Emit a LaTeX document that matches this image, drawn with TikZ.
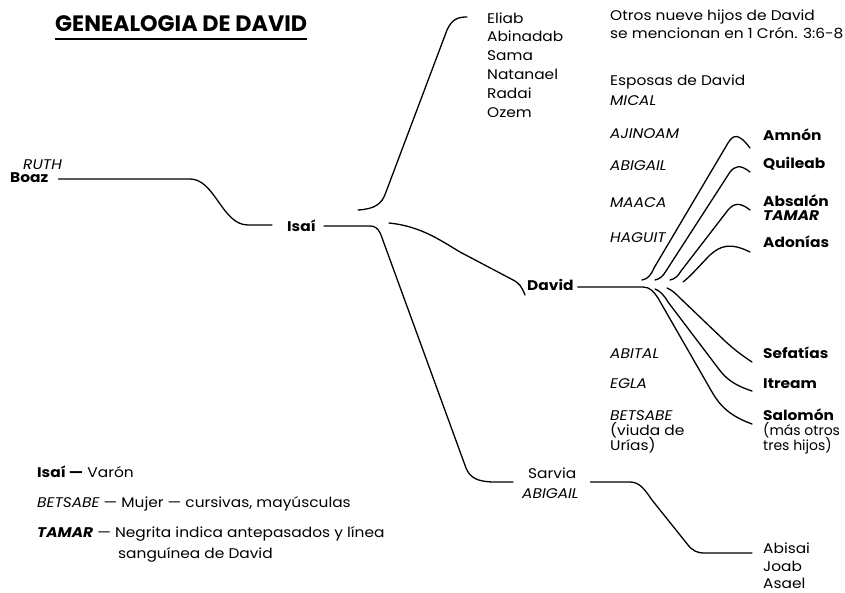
\documentclass[tikz,border=0pt]{standalone}
\usepackage{fontspec}
\setmainfont{Poppins}[FakeStretch=1.1]
\newfontfamily\titlefont{Poppins}
\begin{document}
\begin{tikzpicture}[x=1pt,y=-1pt,
  lbl/.style={anchor=base west, inner sep=0pt, font=\fontsize{14}{16}\selectfont},
  nlbl/.style={anchor=base west, inner sep=0pt, font=\titlefont\fontsize{14}{16}\selectfont},
  bl/.style={lbl, font=\fontsize{14}{16}\selectfont\bfseries},
  itl/.style={lbl, font=\fontsize{14}{16}\selectfont\itshape},
  bit/.style={lbl, font=\fontsize{14}{16}\selectfont\bfseries\itshape},
  conn/.style={line width=1.3pt, line cap=round, line join=round}]
\useasboundingbox[fill=white] (0,0) rectangle (845,592);

% title
\node[anchor=base west, inner sep=0pt, font=\titlefont\fontsize{22.3}{24}\selectfont\bfseries] (title) at (55,31) {GENEALOGIA DE DAVID};
\draw[line width=2.6pt] ([yshift=-8pt]title.base west) -- ([yshift=-8pt]title.base east);

% ancestors
\node[itl] (ruth) at (23,169) {RUTH};
\node[bl] (boaz) at (10,182) {Boaz};
\node[bl] (isai) at (287,231) {Isaí};
\node[bl] (david) at (527,290) {David};

% Jesse's other sons
\node[lbl] (eliab) at (487,23) {Eliab};
\node[lbl] (abinadab) at (487,41.8) {Abinadab};
\node[lbl] (sama) at (487,60.6) {Sama};
\node[lbl] (natanael) at (487,79.4) {Natanael};
\node[lbl] (radai) at (487,98.2) {Radai};
\node[lbl] (ozem) at (487,117) {Ozem};

% notes
\node[lbl] (otros) at (610,20) {Otros nueve hijos de David};
\node[lbl] (mencion) at (610,38) {se mencionan en 1 Crón. 3:6-8};
\node[lbl] (esposas) at (610,85) {Esposas de David};

% wives
\node[itl] (mical) at (610,105) {MICAL};
\node[itl] (ajinoam) at (610,138) {AJINOAM};
\node[itl] (abigail) at (610,170) {ABIGAIL};
\node[itl] (maaca) at (610,207) {MAACA};
\node[itl] (haguit) at (610,242) {HAGUIT};
\node[itl] (abital) at (610,358) {ABITAL};
\node[itl] (egla) at (610,388) {EGLA};
\node[itl] (betsabe) at (610,420) {BETSABE};
\node[lbl] (viuda) at (610,435) {(viuda de};
\node[lbl] (urias) at (610,450) {Urías)};

% David's sons
\node[bl] (amnon) at (763,140) {Amnón};
\node[bl] (quileab) at (763,168) {Quileab};
\node[bl] (absalon) at (763,206) {Absalón};
\node[bit] (tamar) at (763,220) {TAMAR};
\node[bl] (adonias) at (763,247) {Adonías};
\node[bl] (sefatias) at (763,358) {Sefatías};
\node[bl] (itream) at (763,388) {Itream};
\node[bl] (salomon) at (763,420) {Salomón};
\node[nlbl] (masotros) at (763,435) {(más otros};
\node[nlbl] (treshijos) at (763,450) {tres hijos)};

% Sarvia
\node[lbl] (sarvia) at (528,478) {Sarvia};
\node[itl] (abigail2) at (522,498) {ABIGAIL};
\node[lbl] (abisai) at (763,553) {Abisai};
\node[lbl] (joab) at (763,571) {Joab};
\node[lbl] (asael) at (763,588.5) {Asael};

% legend
\node[lbl] (leg1) at (37,477) {{\bfseries Isaí —} Varón};
\node[lbl] (leg2) at (37,507) {{\itshape BETSABE} — Mujer — cursivas, mayúsculas};
\node[lbl] (leg3) at (37,537) {{\bfseries\itshape TAMAR} — Negrita indica antepasados y línea};
\node[lbl] (leg4) at (118,558) {sanguínea de David};

% connectors
\draw[conn] ([xshift=10pt,yshift=3pt]boaz.base east) -- (190,179)
  .. controls (215,179) and (222,225) .. (248,225) -- ([xshift=-15pt,yshift=6pt]isai.base west);
% Isai -> Eliab
\draw[conn] ([xshift=42pt,yshift=21pt]isai.base east) .. controls (375,209) and (382,204) .. (386,192)
  -- (447,30) .. controls (452,19) and (458,17) .. ([xshift=-20pt,yshift=6pt]eliab.base west);
% Isai -> Sarvia
\draw[conn] ([xshift=8pt,yshift=5pt]isai.base east) -- (370,226)
  .. controls (380,226) and (381,236) .. (385,246) -- (466,468)
  .. controls (470,478) and (478,482) .. (495,482) -- ([xshift=-15pt,yshift=-4pt]sarvia.base west);
% Isai -> David
\draw[conn] ([xshift=73pt,yshift=8pt]isai.base east) .. controls (420,226) and (440,240) .. (460,252)
  -- (515,281) .. controls (519,284) and (521,285) .. ([xshift=-2pt,yshift=-5pt]david.base west);
% David line and fan
\draw[conn] ([xshift=4pt,yshift=3pt]david.base east) -- (643,287)
  .. controls (650,287) and (654,292) .. (658,298) -- (712,392)
  .. controls (720,406) and (730,416) .. ([xshift=-11pt,yshift=-4pt]salomon.base west);
\draw[conn] (655,289) .. controls (660,291) and (664,295) .. (668,302) -- (718,368)
  .. controls (726,379) and (734,385) .. ([xshift=-11pt,yshift=-3pt]itream.base west);
\draw[conn] (667,288) .. controls (672,290) and (676,294) .. (680,298) -- (726,342)
  .. controls (735,350) and (740,354) .. ([xshift=-11pt,yshift=-4pt]sefatias.base west);
\draw[conn] (642,280) .. controls (648,279) and (651,275) .. (654,268) -- (728,143)
  .. controls (733,135) and (738,132) .. ([xshift=-13pt,yshift=-8pt]amnon.base west);
\draw[conn] (655,280) .. controls (660,279) and (663,276) .. (666,271) -- (730,172)
  .. controls (735,166) and (740,164) .. ([xshift=-13pt,yshift=-4pt]quileab.base west);
\draw[conn] (670,280) .. controls (675,279) and (678,276) .. (681,271) -- (728,210)
  .. controls (734,203) and (740,202) .. ([xshift=-13pt,yshift=-4pt]absalon.base west);
\draw[conn] (683,282) .. controls (692,275) and (700,265) .. (710,255)
  .. controls (720,246) and (730,242) .. ([xshift=-13pt,yshift=-5pt]adonias.base west);
% Sarvia -> Abisai
\draw[conn] ([xshift=14pt,yshift=-4pt]sarvia.base east) -- (630,482)
  .. controls (640,482) and (645,490) .. (652,500) -- (688,545)
  .. controls (693,551) and (697,553) .. (705,553) -- ([xshift=-11pt]abisai.base west);
\end{tikzpicture}
\end{document}
